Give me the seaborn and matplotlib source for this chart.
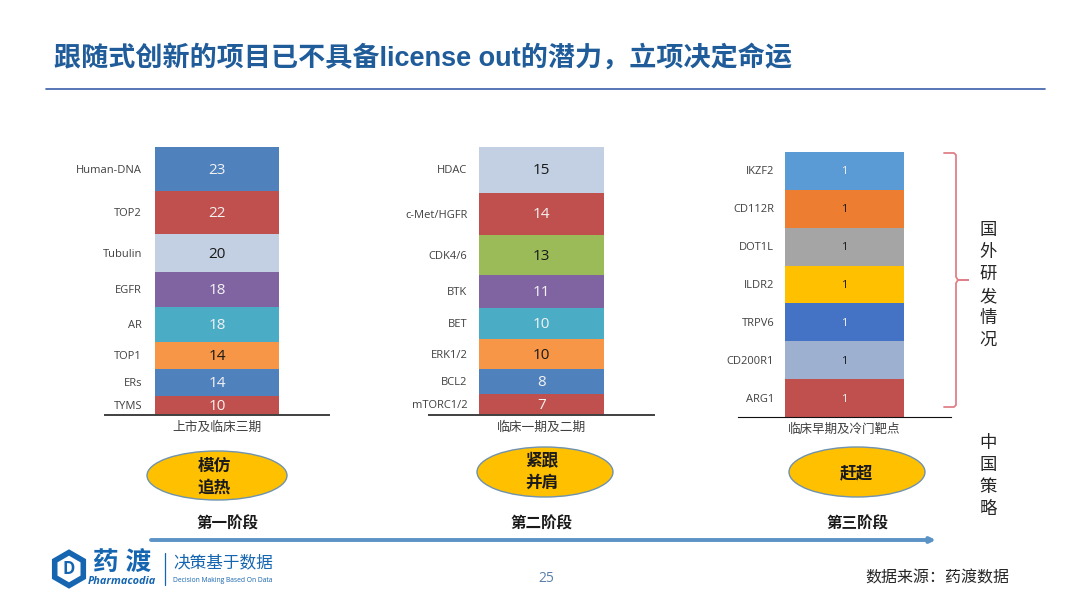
import matplotlib
matplotlib.use("Agg")
import matplotlib.pyplot as plt
import seaborn as sns
from matplotlib.patches import Ellipse, RegularPolygon

sns.set_theme(style="white")
plt.rcParams['font.family'] = ['Open Sans', 'Noto Sans CJK SC', 'DejaVu Sans']

# Dados das três colunas, de cima para baixo
etapa1 = "上市及临床三期"
alvos1 = ["Human-DNA", "TOP2", "Tubulin", "EGFR", "AR", "TOP1", "ERs", "TYMS"]
valores1 = [23, 22, 20, 18, 18, 14, 14, 10]
cores1 = ["#4F81BD", "#C0504D", "#C3CFE2", "#8064A2", "#4BACC6", "#F79646", "#4F81BD", "#C0504D"]

etapa2 = "临床一期及二期"
alvos2 = ["HDAC", "c-Met/HGFR", "CDK4/6", "BTK", "BET", "ERK1/2", "BCL2", "mTORC1/2"]
valores2 = [15, 14, 13, 11, 10, 10, 8, 7]
cores2 = ["#C3CFE2", "#C0504D", "#9BBB59", "#8064A2", "#4BACC6", "#F79646", "#4F81BD", "#C0504D"]

etapa3 = "临床早期及冷门靶点"
alvos3 = ["IKZF2", "CD112R", "DOT1L", "ILDR2", "TRPV6", "CD200R1", "ARG1"]
valores3 = [1, 1, 1, 1, 1, 1, 1]
cores3 = ["#5B9BD5", "#ED7D31", "#A5A5A5", "#FFC000", "#4472C4", "#9DB0D0", "#C0504D"]

cores_texto_escuro = ["#C3CFE2", "#F79646", "#9BBB59", "#ED7D31", "#A5A5A5", "#FFC000", "#9DB0D0"]

titulo = "跟随式创新的项目已不具备license out的潜力，立项决定命运"
AZUL = "#1F5C99"
W, H = 1080, 608

fig = plt.figure(figsize=(W / 100, H / 100), dpi=100, facecolor="white")


def eixo_px(x0, x1, y0, y1):
    return fig.add_axes([x0 / W, 1 - y1 / H, (x1 - x0) / W, (y1 - y0) / H])


def coluna(etapa, alvos, valores, cores, caixa, largura, x_rotulo, fs_valor, lw_base, cor_base, fs_etapa):
    ax = eixo_px(*caixa)
    base = 0
    passo = (caixa[3] - caixa[2]) / sum(valores)  # pixels por unidade
    # empilha de baixo para cima
    for alvo, v, c in zip(alvos[::-1], valores[::-1], cores[::-1]):
        sns.barplot(x=[etapa], y=[v], bottom=base, color=c, width=largura, saturation=1,
                    linewidth=0, ax=ax)
        cor_txt = "#1A1A1A" if c in cores_texto_escuro else "#F2F2F2"
        meio = base + v / 2 - 1 / passo  # texto 1px abaixo do centro
        ax.text(0, meio, str(v), ha="center", va="center", fontsize=fs_valor, color=cor_txt)
        ax.text(x_rotulo, meio, alvo, ha="right", va="center", fontsize=8, color="#404040")
        base += v
    ax.set_xlim(-0.5, 0.5)
    ax.set_ylim(0, base)
    ax.set_xlabel("")
    ax.set_ylabel("")
    ax.set_yticks([])
    ax.tick_params(axis="x", length=0, pad=4, labelsize=fs_etapa, labelcolor="#404040")
    for lado in ["top", "left", "right"]:
        ax.spines[lado].set_visible(False)
    ax.spines["bottom"].set_linewidth(lw_base)
    ax.spines["bottom"].set_color(cor_base)
    ax.patch.set_alpha(0)
    return ax


coluna(etapa1, alvos1, valores1, cores1, (105, 329, 147, 415), 0.55, -0.335, 11, 1.4, "#404040", 9.2)
coluna(etapa2, alvos2, valores2, cores2, (429, 654, 147, 415), 0.555, -0.33, 11, 1.4, "#404040", 9.2)
coluna(etapa3, alvos3, valores3, cores3, (738, 951, 152, 417), 0.555, -0.33, 8, 0.8, "#111111", 9)

# Camada em pixels para o resto do slide
fundo = fig.add_axes([0, 0, 1, 1], zorder=5)
fundo.set_xlim(0, W)
fundo.set_ylim(H, 0)
fundo.axis("off")
fundo.patch.set_alpha(0)

fundo.text(54, 58.5, titulo, fontsize=19.5, fontweight="bold", color=AZUL, va="center",
           family=['Liberation Sans', 'Noto Sans CJK SC'])
fundo.plot([46, 1045], [88.5, 88.5], color="#3A5FA8", lw=1.2)

# Elipses
elipses = [(217, 475.5, 140, 49, ["模仿", "追热"], 1),
           (545, 472, 136, 50, ["紧跟", "并肩"], 0),
           (857, 472, 136, 50, ["赶超"], 1)]
for cx, cy, w, h, linhas, dy in elipses:
    fundo.add_patch(Ellipse((cx, cy), w, h, facecolor="#FFC000", edgecolor="#6F93AE", lw=1))
    fundo.text(cx - 3 if len(linhas) > 1 else cx - 1, cy + dy, "\n".join(linhas), ha="center", va="center",
               fontsize=12, fontweight="bold", color="#1A1A1A", linespacing=1.3)

for x, s in [(227, "第一阶段"), (541, "第二阶段"), (857, "第三阶段")]:
    fundo.text(x, 525, s, ha="center", va="center", fontsize=11.2, fontweight="bold", color="#1A1A1A")

fundo.annotate("", xy=(936, 540), xytext=(151, 540),
               arrowprops=dict(arrowstyle="-|>,head_width=0.12,head_length=0.25", lw=2.8, color="#5B93C6",
                               shrinkA=0, shrinkB=0))

# Chave vermelha
cor_chave = "#E08088"
fundo.plot([944, 954, 956, 956, 958, 968, 958, 956, 956, 954, 944],
           [153, 153, 155, 277, 280, 280, 280, 283, 405, 407, 407], color=cor_chave, lw=1.3)

for i, c in enumerate("国外研发情况"):
    fundo.text(988, 231 + i * 22, c, ha="center", va="center", fontsize=12.5, color="#262626")
for i, c in enumerate("中国策略"):
    fundo.text(988, 444 + i * 22, c, ha="center", va="center", fontsize=12.5, color="#262626")

# Logo e rodapé
fundo.add_patch(RegularPolygon((69, 569), 6, radius=16.5, facecolor="white", edgecolor="#1565B0", lw=4))
fundo.text(69, 569, "D", ha="center", va="center", fontsize=12, fontweight="bold", color="#1565B0")
fundo.text(122, 562, "药 渡", ha="center", va="center", fontsize=18.5, fontweight="bold", color="#1565B0")
fundo.text(122, 581, "Pharmacodia", ha="center", va="center", fontsize=7.8, fontweight="bold",
           style="italic", color="#1565B0")
fundo.plot([165, 165], [553, 585], color="#1565B0", lw=0.9)
fundo.text(173, 563, "决策基于数据", ha="left", va="center", fontsize=12, color="#1565B0")
fundo.text(173, 581, "Decision Making Based On Data", ha="left", va="center", fontsize=4.9, color="#1565B0")

fundo.text(546, 578, "25", ha="center", va="center", fontsize=10, color="#5B7FA8")
fundo.text(1009, 579, "数据来源：药渡数据", ha="right", va="center", fontsize=11.5, color="#262626")

fig.savefig("out.png", dpi=100)
